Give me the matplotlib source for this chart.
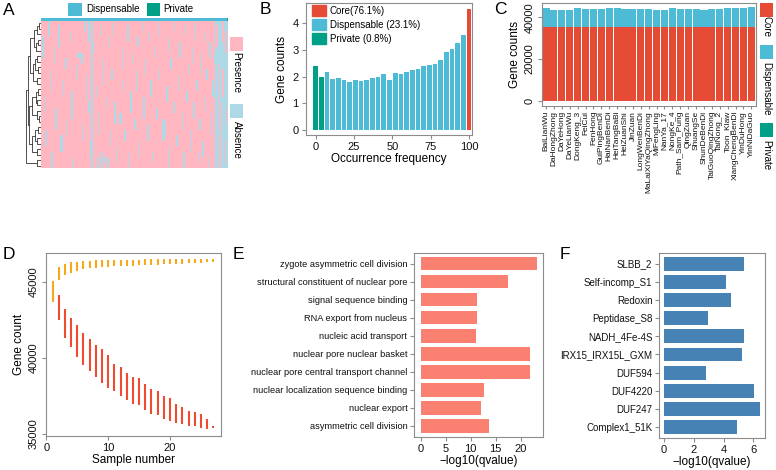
import numpy as np
import matplotlib
matplotlib.use("Agg")
import matplotlib.pyplot as plt
from matplotlib.colors import ListedColormap
from matplotlib.patches import Patch, Rectangle

plt.rcParams['font.family'] = ['Liberation Sans', 'DejaVu Sans']

W, H = 776, 470
RED = '#E64B35'
BLUE = '#4DBBD5'
GREEN = '#00A087'
PINK = '#FFB6C1'
LBLUE = '#ADD8E6'
FRAME = '#8c8c8c'

# ---- A: presence / absence heatmap ----
N_ROWS = 27
N_COLS = 130
ALL_ABSENT_COLS = [35]
# (column, first row, last row) of absent runs among dispensable genes
ABSENT_STREAKS = [
    (1, 3, 6), (2, 14, 16), (3, 20, 22), (5, 0, 2), (6, 9, 12), (7, 24, 26), (9, 5, 7),
    (10, 16, 19), (12, 1, 4), (13, 21, 23), (14, 21, 23), (15, 11, 13), (17, 7, 8),
    (18, 18, 20), (20, 2, 3), (21, 13, 17), (22, 25, 26), (24, 8, 10), (25, 6, 6),
    (26, 6, 6), (27, 6, 6), (28, 6, 7), (29, 19, 21), (30, 0, 1), (31, 10, 14),
    (33, 0, 3), (33, 15, 16), (34, 22, 24), (36, 4, 5), (38, 12, 13), (39, 25, 26),
    (40, 17, 20), (41, 1, 2), (42, 24, 26), (43, 7, 11), (44, 25, 25), (45, 14, 15),
    (46, 25, 26), (47, 3, 4), (48, 20, 22), (49, 9, 10), (50, 0, 2), (51, 15, 18),
    (52, 23, 25), (54, 17, 18), (55, 17, 18), (56, 5, 8), (57, 11, 12), (58, 20, 21),
    (60, 1, 3), (61, 24, 26), (62, 13, 16), (63, 6, 7), (65, 18, 19), (66, 9, 12),
    (67, 3, 4), (68, 22, 24), (70, 0, 1), (71, 14, 17), (72, 7, 9), (74, 19, 21),
    (75, 2, 3), (76, 11, 13), (77, 24, 25), (79, 5, 6), (80, 16, 17), (81, 0, 2),
    (82, 9, 10), (84, 18, 21), (85, 18, 21), (86, 19, 20), (87, 12, 14), (88, 23, 26),
    (89, 3, 5), (90, 7, 8), (92, 15, 16), (93, 0, 1), (94, 21, 22), (95, 10, 12),
    (96, 4, 6), (98, 17, 19), (99, 24, 26), (100, 1, 2), (101, 13, 14), (102, 8, 9),
    (104, 20, 23), (105, 5, 7), (106, 15, 17), (107, 0, 3), (108, 11, 12), (109, 24, 25),
    (110, 18, 19), (111, 6, 9), (112, 22, 24), (113, 2, 3), (114, 14, 16), (115, 9, 10),
    (116, 25, 26), (117, 4, 6), (118, 17, 20), (119, 11, 13),
]
FIRST_RARE_COL = 120
# (column, first row, last row) of present runs among the rare genes on the right
RARE_PRESENT = [
    (120, 0, 5), (120, 8, 12), (121, 14, 26), (122, 1, 4), (123, 8, 19), (124, 21, 26),
    (125, 15, 20), (126, 0, 3), (126, 9, 13), (127, 22, 25), (128, 2, 5), (129, 16, 18),
]
PRIVATE_ANNOT_COLS = [129]
# hand-read clustering tree: (height, left, right), leaves are row indices
TREE = (1.0,
        (0.9,
         (0.75,
          (0.5, (0.3, (0.15, 0, 1), 2), (0.35, (0.2, 3, 4), 5)),
          (0.55, (0.4, (0.25, 6, 7), (0.2, 8, 9)), (0.3, 10, 11))),
         (0.8,
          (0.6, (0.35, (0.2, 12, 13), (0.25, 14, 15)), (0.3, 16, (0.15, 17, 18))),
          (0.65, (0.4, (0.2, 19, 20), (0.3, 21, 22)), (0.25, 23, 24)))),
        (0.3, 25, 26))

# ---- B: occurrence frequency histogram ----
OCC_FREQ = [0, 3.7, 7.4, 11.1, 14.8, 18.5, 22.2, 25.9, 29.6, 33.3, 37.0, 40.7, 44.4, 48.1,
            51.9, 55.6, 59.3, 63.0, 66.7, 70.4, 74.1, 77.8, 81.5, 85.2, 88.9, 92.6, 96.3, 100]
OCC_COUNTS = [2.40, 1.99, 2.18, 1.90, 1.94, 1.86, 1.79, 1.89, 1.84, 1.86, 1.95, 2.00, 2.10, 1.86,
              2.14, 2.08, 2.18, 2.24, 2.30, 2.39, 2.45, 2.47, 2.64, 2.91, 3.04, 3.26, 3.56, 4.53]
OCC_CLASS = ['Private'] * 2 + ['Dispensable'] * 25 + ['Core']
CLASS_LABELS = {'Core': 'Core(76.1%)', 'Dispensable': 'Dispensable (23.1%)', 'Private': 'Private (0.8%)'}
CLASS_COLORS = {'Core': RED, 'Dispensable': BLUE, 'Private': GREEN}

# ---- C: per-sample composition ----
SAMPLES = ['BaiLianWu', 'DaHongZhong', 'DaYeHong', 'DaYeLianWu', 'DongKeng_3', 'FeiCui', 'FenHong',
           'GuiPingBenDi', 'HaiNanBenDi', 'HeiTangBaBi', 'HeiZuanShi', 'JinZuan', 'LongWenBenDi',
           'MaLaiXiYaQingZhong', 'MiFengLing', 'NanYa_17', 'NongKe_4', 'Path_Sam_Pung', 'QingZuan',
           'ShuangSe', 'ShunDeBenDi', 'TaiGuoQingZhong', 'TaiNong_2', 'Toon_Klaw', 'XiangChengBenDi',
           'YinDuHong', 'YinNiDaGuo']
CORE_GENES = [35200] * 27
DISP_GENES = [9120, 8480, 8320, 8480, 9280, 8800, 8800, 8960, 9440, 9120, 8800, 8960, 8960, 8960,
              8480, 8480, 9440, 8800, 8960, 8960, 8320, 8960, 8800, 9440, 9280, 9120, 9760]

# ---- D: pan / core curves ----
SAMPLE_N = list(range(1, 28))
PAN_LO = [43750, 45150, 45500, 45650, 45770, 45870, 45940, 45990, 46030, 46050, 46070, 46090, 46110,
          46120, 46140, 46160, 46170, 46190, 46200, 46210, 46230, 46250, 46270, 46290, 46310, 46330, 46360]
PAN_HI = [45000, 45870, 46090, 46200, 46250, 46290, 46310, 46330, 46350, 46360, 46370, 46370, 46380,
          46380, 46380, 46390, 46390, 46390, 46390, 46400, 46400, 46400, 46400, 46400, 46400, 46400, 46400]
CORE_N = list(range(2, 28))
CORE_HI = [44060, 43140, 42530, 42090, 41560, 41170, 40780, 40510, 40120, 39530, 39310, 38920, 38700,
           38590, 38220, 37890, 37780, 37400, 37280, 36900, 36690, 36470, 36360, 36250, 35920, 35440]
CORE_LO = [42530, 41390, 40780, 40120, 39600, 39200, 38800, 38440, 38110, 37890, 37560, 37280, 37010,
           36950, 36620, 36360, 36310, 36030, 35920, 35810, 35700, 35590, 35590, 35480, 35420, 35440]

# ---- E: GO enrichment ----
GO_TERMS = ['zygote asymmetric cell division', 'structural constituent of nuclear pore',
            'signal sequence binding', 'RNA export from nucleus', 'nucleic acid transport',
            'nuclear pore nuclear basket', 'nuclear pore central transport channel',
            'nuclear localization sequence binding', 'nuclear export', 'asymmetric cell division']
GO_SCORES = [23.3, 17.4, 11.3, 11.2, 11.0, 21.9, 21.9, 12.7, 12.1, 13.7]

# ---- F: Pfam enrichment ----
PFAM_TERMS = ['SLBB_2', 'Self-incomp_S1', 'Redoxin', 'Peptidase_S8', 'NADH_4Fe-4S',
              'IRX15_IRX15L_GXM', 'DUF594', 'DUF4220', 'DUF247', 'Complex1_51K']
PFAM_SCORES = [5.37, 4.14, 4.50, 2.93, 5.37, 5.26, 2.80, 6.04, 6.47, 4.90]


fig = plt.figure(figsize=(W / 100, H / 100), dpi=100)


def px_axes(x0, y0, x1, y1):
    return fig.add_axes([x0 / W, 1 - y1 / H, (x1 - x0) / W, (y1 - y0) / H])


def style(ax, labelsize=8):
    for s in ax.spines.values():
        s.set_color(FRAME)
        s.set_linewidth(0.8)
    ax.tick_params(colors=FRAME, labelcolor='#111111', length=3, width=0.8, pad=2,
                   labelsize=labelsize)


def px_box(x0, y0, x1, y1, color):
    fig.add_artist(Rectangle((x0 / W, 1 - y1 / H), (x1 - x0) / W, (y1 - y0) / H,
                             transform=fig.transFigure, facecolor=color, edgecolor='none'))


def px_text(x, y, s, **kw):
    fig.text(x / W, 1 - y / H, s, **kw)


# panel A
mat = np.zeros((N_ROWS, N_COLS))
for c in ALL_ABSENT_COLS:
    mat[:, c] = 1
for c, r0, r1 in ABSENT_STREAKS:
    mat[r0:r1 + 1, c] = 1
mat[:, FIRST_RARE_COL:] = 1
for c, r0, r1 in RARE_PRESENT:
    mat[r0:r1 + 1, c] = 0

ax_h = px_axes(41, 20.7, 227.7, 168.3)
ax_h.imshow(mat, cmap=ListedColormap([PINK, LBLUE]), vmin=0, vmax=1,
            aspect='auto', interpolation='nearest')
ax_h.axis('off')

annot = np.zeros((1, N_COLS))
annot[0, PRIVATE_ANNOT_COLS] = 1
ax_an = px_axes(41, 18.3, 227.7, 20.7)
ax_an.imshow(annot, cmap=ListedColormap([BLUE, GREEN]), vmin=0, vmax=1,
             aspect='auto', interpolation='nearest')
ax_an.axis('off')

ax_d = px_axes(25, 20.7, 41, 168.3)


def draw_tree(node):
    if isinstance(node, int):
        return node, 0.0
    h, left, right = node
    yl, hl = draw_tree(left)
    yr, hr = draw_tree(right)
    ax_d.plot([hl, h, h, hr], [yl, yl, yr, yr], color='#333333', lw=0.6)
    return (yl + yr) / 2, h


draw_tree(TREE)
ax_d.set_xlim(1.1, 0)
ax_d.set_ylim(N_ROWS - 0.5, -0.5)
ax_d.axis('off')

px_box(68.3, 2.7, 81.7, 15.7, BLUE)
px_text(86, 9.5, 'Dispensable', fontsize=7, va='center')
px_box(146.7, 2.7, 160, 15.7, GREEN)
px_text(163.5, 9.5, 'Private', fontsize=7, va='center')
px_box(229.5, 37, 243, 51, PINK)
px_text(236.5, 73, 'Presence', fontsize=7, rotation=270, ha='center', va='center')
px_box(229.5, 104, 243, 117.5, LBLUE)
px_text(236.5, 140, 'Absence', fontsize=7, rotation=270, ha='center', va='center')

# panel B
ax_b = px_axes(305.7, 3.3, 472, 135)
ax_b.bar(OCC_FREQ, OCC_COUNTS, width=3.0, color=[CLASS_COLORS[c] for c in OCC_CLASS])
ax_b.set_xlim(-6.5, 102)
ax_b.set_ylim(-0.19, 4.75)
ax_b.set_xticks([0, 25, 50, 75, 100])
ax_b.set_yticks([0, 1, 2, 3, 4])
ax_b.set_xlabel('Occurrence frequency', fontsize=8.5, labelpad=1)
ax_b.set_ylabel('Gene counts', fontsize=8.5, labelpad=3)
style(ax_b)
handles = [Patch(color=CLASS_COLORS[k], label=CLASS_LABELS[k]) for k in ['Core', 'Dispensable', 'Private']]
ax_b.legend(handles=handles, loc='upper left', bbox_to_anchor=(0.035, 0.985), frameon=False,
            fontsize=7, handlelength=1.45, handleheight=1.35, handletextpad=0.4,
            labelspacing=0.3, borderpad=0, borderaxespad=0)

# panel C
ax_c = px_axes(541.7, 2.7, 755.7, 106)
xc = np.arange(len(SAMPLES))
ax_c.bar(xc, CORE_GENES, width=0.9, color=RED)
ax_c.bar(xc, DISP_GENES, bottom=CORE_GENES, width=0.9, color=BLUE)
ax_c.set_xlim(-0.55, len(SAMPLES) - 0.45)
ax_c.set_ylim(-2500, 47000)
ax_c.set_yticks([0, 20000, 40000])
ax_c.set_xticks(xc)
ax_c.set_xticklabels(SAMPLES, rotation=90, fontsize=6)
ax_c.set_ylabel('Gene counts', fontsize=8.5, labelpad=3)
style(ax_c)
ax_c.tick_params(axis='x', length=2, pad=1.5, labelsize=6)
for lab in ax_c.get_yticklabels():
    lab.set_rotation(90)
    lab.set_va('center')

px_box(760, 3, 773, 17, RED)
px_text(766.5, 26, 'Core', fontsize=7, rotation=270, ha='center', va='center')
px_box(760, 45, 773, 58.5, BLUE)
px_text(766.5, 89, 'Dispensable', fontsize=7, rotation=270, ha='center', va='center')
px_box(760, 123, 773, 137, GREEN)
px_text(766.5, 155, 'Private', fontsize=7, rotation=270, ha='center', va='center')

# panel D
ax_dd = px_axes(45.7, 252.7, 220.7, 436)
ax_dd.vlines(CORE_N, CORE_LO, CORE_HI, color='#EE4B30', lw=1.5)
ax_dd.scatter(CORE_N + CORE_N, CORE_LO + CORE_HI, s=2.5, marker='s', color='#EE4B30', lw=0)
ax_dd.vlines(SAMPLE_N, PAN_LO, PAN_HI, color='#F7A91E', lw=1.5)
ax_dd.scatter(SAMPLE_N + SAMPLE_N, PAN_LO + PAN_HI, s=2.5, marker='s', color='#F7A91E', lw=0)
ax_dd.set_xlim(-0.1, 28.2)
ax_dd.set_ylim(34870, 46900)
ax_dd.set_xticks([0, 10, 20])
ax_dd.set_yticks([35000, 40000, 45000])
ax_dd.set_xlabel('Sample number', fontsize=8.5, labelpad=1)
ax_dd.set_ylabel('Gene count', fontsize=8.5, labelpad=3)
style(ax_dd)
for lab in ax_dd.get_yticklabels():
    lab.set_rotation(90)
    lab.set_va('center')

# panel E
ax_e = px_axes(414.3, 252.7, 542.7, 436.7)
ye = np.arange(len(GO_TERMS))[::-1]
ax_e.barh(ye, GO_SCORES, height=0.76, color='#FA8072')
ax_e.set_yticks(ye)
ax_e.set_yticklabels(GO_TERMS)
ax_e.set_ylim(-0.6, len(GO_TERMS) - 0.4)
ax_e.set_xlim(-1.3, 24.4)
ax_e.set_xticks([0, 5, 10, 15, 20])
ax_e.set_xlabel('\u2212log10(qvalue)', fontsize=8.5, labelpad=1)
style(ax_e)
ax_e.tick_params(axis='y', labelsize=6.7)

# panel F
ax_f = px_axes(659.3, 252.7, 765, 438)
yf = np.arange(len(PFAM_TERMS))[::-1]
ax_f.barh(yf, PFAM_SCORES, height=0.76, color='#4682B4')
ax_f.set_yticks(yf)
ax_f.set_yticklabels(PFAM_TERMS)
ax_f.set_ylim(-0.6, len(PFAM_TERMS) - 0.4)
ax_f.set_xlim(-0.32, 6.78)
ax_f.set_xticks([0, 2, 4, 6])
ax_f.set_xlabel('\u2212log10(qvalue)', fontsize=8.5, labelpad=1)
style(ax_f)
ax_f.tick_params(axis='y', labelsize=7)

for letter, x, y in [('A', 3, 3), ('B', 260, 2), ('C', 494, 2), ('D', 3, 247), ('E', 233, 247), ('F', 560, 247)]:
    px_text(x, y, letter, fontsize=12.5, va='top', ha='left')

fig.savefig('out.png', dpi=100)
